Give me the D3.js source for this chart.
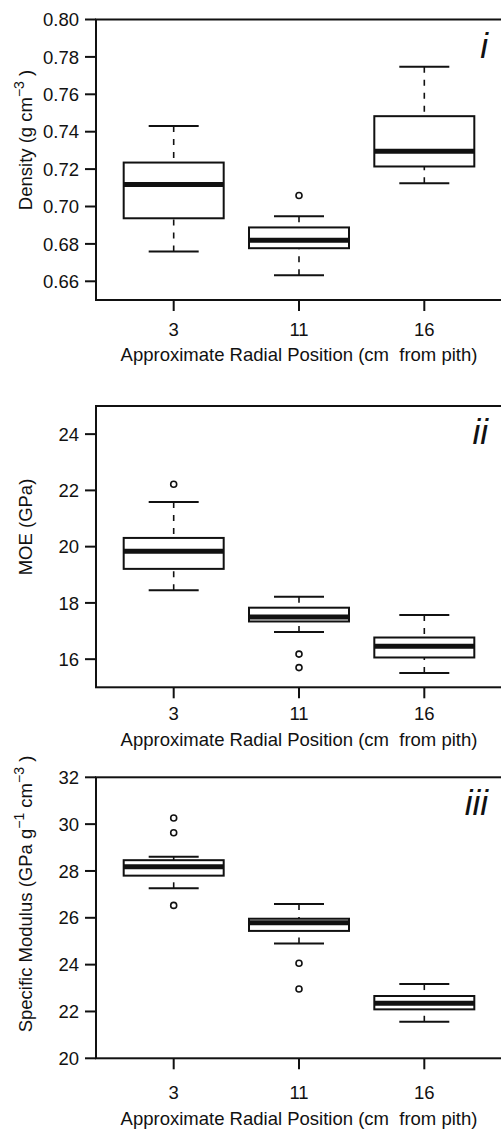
<!DOCTYPE html>
<html lang="en">
<head>
  <meta charset="UTF-8">
  <title>Radial position boxplots</title>
  <style>
    body { margin: 0; background: #fff; }
    svg { display: block; }
    text { font-family: "Liberation Sans", Arial, sans-serif; fill: #111; white-space: pre; }
    .tick-label { font-size: 18.5px; }
    .axis-title { font-size: 18.5px; }
    .panel-label { font-size: 35px; font-style: italic; }
    .frame { fill: none; stroke: #111; stroke-width: 2px; }
    .box { fill: #fff; stroke: #111; stroke-width: 2px; }
    .median { stroke: #111; stroke-width: 5px; }
    .whisker { stroke: #111; stroke-width: 1.6px; stroke-dasharray: 6,7; }
    .cap { stroke: #111; stroke-width: 2px; }
    .outlier { fill: none; stroke: #111; stroke-width: 1.6px; }
    .tick { stroke: #111; stroke-width: 2px; }
  </style>
</head>
<body>
  <svg width="501" height="1129"></svg>

  <script src="https://d3js.org/d3.v7.min.js"></script>
  <script>
    // radial positions (cm from pith)
    const positions = ["3", "11", "16"];

    // box stats per position: [lower whisker, Q1, median, Q3, upper whisker]
    const densityStats = [
      [0.676, 0.6937, 0.7118, 0.7235, 0.743],
      [0.6632, 0.6777, 0.682, 0.6888, 0.6948],
      [0.7125, 0.7214, 0.7296, 0.7483, 0.7747]
    ];
    const densityOutliers = [[], [0.7059], []];
    const densityTicks = [0.66, 0.68, 0.70, 0.72, 0.74, 0.76, 0.78, 0.80];

    const moeStats = [
      [18.45, 19.21, 19.84, 20.31, 21.59],
      [16.97, 17.34, 17.50, 17.83, 18.22],
      [15.51, 16.06, 16.46, 16.77, 17.57]
    ];
    const moeOutliers = [[22.22], [16.18, 15.70], []];
    const moeTicks = [16, 18, 20, 22, 24];

    const specStats = [
      [27.26, 27.80, 28.18, 28.46, 28.61],
      [24.90, 25.44, 25.79, 25.96, 26.59],
      [21.56, 22.09, 22.35, 22.66, 23.17]
    ];
    const specOutliers = [[30.26, 29.63, 26.53], [24.06, 22.96], []];
    const specTicks = [20, 22, 24, 26, 28, 30, 32];

    const svg = d3.select("svg");

    // boxes sit at 1..3, frame goes a bit past 0.5 / 3.5 like R does
    const x = d3.scaleLinear().domain([0.38, 3.62]).range([96, 502]);
    const boxHalf = 50, capHalf = 25;

    const panels = [
      {
        stats: densityStats, outliers: densityOutliers, ticks: densityTicks,
        domain: [0.65, 0.80], top: 19.5, bottom: 300, fmt: d3.format(".2f"),
        tickBase: 336, xTitleBase: 361, yTitleY: 140, label: "i",
        yTitle: [["Density (g cm", 0], ["\u22123", 1], [" )", 0]]
      },
      {
        stats: moeStats, outliers: moeOutliers, ticks: moeTicks,
        domain: [15, 25], top: 406, bottom: 687.3, fmt: d3.format("d"),
        tickBase: 720, xTitleBase: 746, yTitleY: 527, label: "ii",
        yTitle: [["MOE (GPa)", 0]]
      },
      {
        stats: specStats, outliers: specOutliers, ticks: specTicks,
        domain: [20, 32], top: 777.3, bottom: 1058.3, fmt: d3.format("d"),
        tickBase: 1099, xTitleBase: 1125, yTitleY: 894, label: "iii",
        yTitle: [["Specific Modulus (GPa g", 0], ["\u22121", 1], [" cm", 0], ["\u22123", 1], [" )", 0]]
      }
    ];

    panels.forEach(p => {
      const y = d3.scaleLinear().domain(p.domain).range([p.bottom, p.top]);
      const g = svg.append("g");

      // y ticks
      g.selectAll(".ytick")
        .data(p.ticks)
        .join("line")
        .attr("class", "tick")
        .attr("x1", 85).attr("x2", 96)
        .attr("y1", d => y(d)).attr("y2", d => y(d));
      g.selectAll(".ylab")
        .data(p.ticks)
        .join("text")
        .attr("class", "tick-label")
        .attr("x", 79)
        .attr("y", d => y(d))
        .attr("dy", "0.36em")
        .attr("text-anchor", "end")
        .text(p.fmt);

      // x ticks
      g.selectAll(".xtick")
        .data(positions)
        .join("line")
        .attr("class", "tick")
        .attr("x1", (d, i) => x(i + 1)).attr("x2", (d, i) => x(i + 1))
        .attr("y1", p.bottom).attr("y2", p.bottom + 11);
      g.selectAll(".xlab")
        .data(positions)
        .join("text")
        .attr("class", "tick-label")
        .attr("x", (d, i) => x(i + 1))
        .attr("y", p.tickBase)
        .attr("text-anchor", "middle")
        .text(d => d);

      g.append("text")
        .attr("class", "axis-title")
        .attr("x", 299)
        .attr("y", p.xTitleBase)
        .attr("text-anchor", "middle")
        .text("Approximate Radial Position (cm  from pith)");

      // y title with superscripts
      const yt = g.append("text")
        .attr("class", "axis-title")
        .attr("text-anchor", "middle")
        .attr("transform", `translate(32,${p.yTitleY}) rotate(-90)`);
      p.yTitle.forEach(([s, sup], k) => {
        const prevSup = k > 0 ? p.yTitle[k - 1][1] : 0;
        const t = yt.append("tspan").text(s);
        if (sup) t.attr("dy", -8).style("font-size", "14px");
        else if (prevSup) t.attr("dy", 8);
      });

      // boxes
      p.stats.forEach((s, i) => {
        const cx = x(i + 1);
        const [lo, q1, med, q3, hi] = s;
        g.append("line").attr("class", "whisker")
          .attr("x1", cx).attr("x2", cx).attr("y1", y(hi)).attr("y2", y(q3));
        g.append("line").attr("class", "whisker")
          .attr("x1", cx).attr("x2", cx).attr("y1", y(lo)).attr("y2", y(q1));
        [lo, hi].forEach(v => {
          g.append("line").attr("class", "cap")
            .attr("x1", cx - capHalf).attr("x2", cx + capHalf)
            .attr("y1", y(v)).attr("y2", y(v));
        });
        g.append("rect").attr("class", "box")
          .attr("x", cx - boxHalf).attr("width", boxHalf * 2)
          .attr("y", y(q3)).attr("height", y(q1) - y(q3));
        g.append("line").attr("class", "median")
          .attr("x1", cx - boxHalf).attr("x2", cx + boxHalf)
          .attr("y1", y(med)).attr("y2", y(med));
        g.selectAll(null)
          .data(p.outliers[i])
          .join("circle")
          .attr("class", "outlier")
          .attr("cx", cx).attr("cy", d => y(d)).attr("r", 3);
      });

      // plot frame
      g.append("rect").attr("class", "frame")
        .attr("x", 96).attr("y", p.top)
        .attr("width", 502 - 96).attr("height", p.bottom - p.top);

      g.append("text")
        .attr("class", "panel-label")
        .attr("x", 488)
        .attr("y", p.top + 38)
        .attr("text-anchor", "end")
        .text(p.label);
    });
  </script>
</body>
</html>
